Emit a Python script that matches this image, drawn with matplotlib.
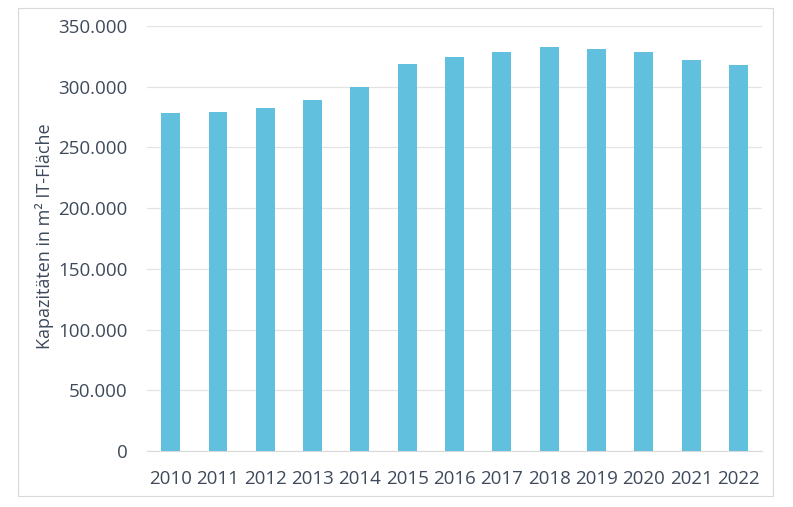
import matplotlib.pyplot as plt
from matplotlib.patches import Rectangle
from matplotlib.ticker import FuncFormatter

years = ["2010", "2011", "2012", "2013", "2014", "2015", "2016",
         "2017", "2018", "2019", "2020", "2021", "2022"]
capacity = [278200, 279200, 282500, 288900, 300100, 318800, 324300,
            328700, 333000, 331400, 328700, 321800, 318200]
y_ticks = [0, 50000, 100000, 150000, 200000, 250000, 300000, 350000]

text_color = "#3E4A5C"
bar_color = "#62C0DF"
grid_color = "#E3E3E3"

plt.rcParams['font.family'] = ['Open Sans', 'DejaVu Sans']

fig = plt.figure(figsize=(7.93, 5.07), dpi=100)
W, H = 793, 507
ax = fig.add_axes([147 / W, 1 - 451 / H, (762 - 147) / W, (451 - 26) / H])

# outer frame around the chart area
fig.patches.append(Rectangle((18 / W, 1 - 496 / H), (773 - 18) / W, (496 - 8) / H,
                             transform=fig.transFigure, fill=False,
                             edgecolor="#D9D9D9", linewidth=0.8))

x = list(range(len(years)))
ax.bar(x, capacity, width=0.4, color=bar_color, zorder=3)

ax.set_xlim(-0.5, len(years) - 0.5)
ax.set_ylim(0, 350000)
ax.set_yticks(y_ticks)
ax.yaxis.set_major_formatter(FuncFormatter(lambda v, p: f"{int(v):,}".replace(",", ".")))
ax.set_xticks(x)
ax.set_xticklabels(years)

ax.grid(axis="y", color=grid_color, linewidth=0.9, zorder=0)
for s in ["top", "right", "left"]:
    ax.spines[s].set_visible(False)
ax.spines["bottom"].set_color("#D9D9D9")
ax.tick_params(axis="both", length=0, labelsize=13.5, colors=text_color)
ax.tick_params(axis="y", pad=14)
ax.tick_params(axis="x", pad=14)

ax.set_ylabel("Kapazitäten in m² IT-Fläche", fontsize=13, color=text_color)
ax.yaxis.set_label_coords((54 - 147) / 615, 0.505)

fig.savefig("out.png", dpi=100)
